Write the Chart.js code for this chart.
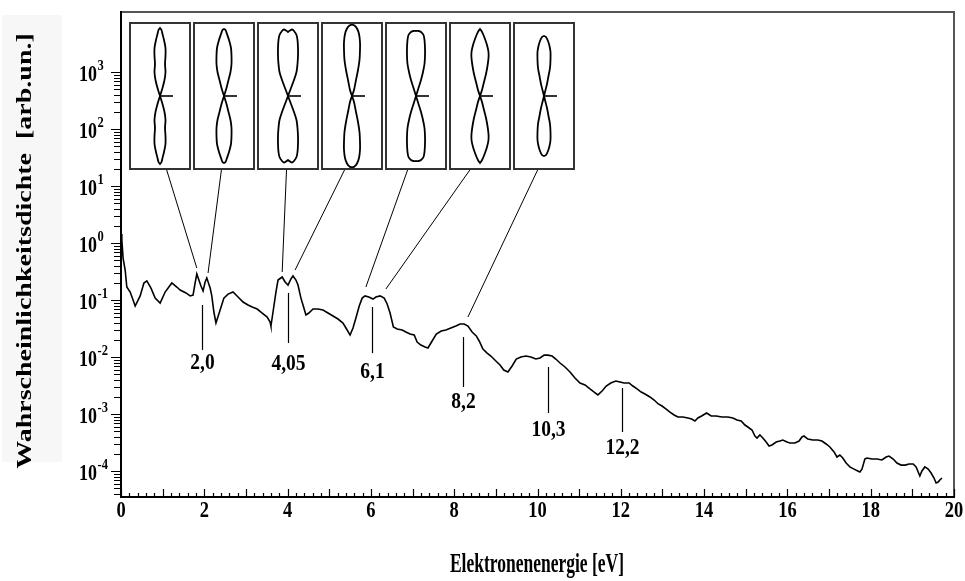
<!DOCTYPE html>
<html><head><meta charset="utf-8">
<script src="https://cdn.jsdelivr.net/npm/chart.js@4/dist/chart.umd.min.js"></script>
<style>
html,body{margin:0;padding:0;background:#fff;}
#wrap{position:relative;width:965px;height:581px;overflow:hidden;}
#main{position:absolute;left:0;top:0;}
.inset{position:absolute;top:22px;width:58px;height:144px;border:2px solid #333;background:#fff;}
.inset canvas{display:block;}
</style></head><body>
<div id="wrap"><canvas id="main" width="965" height="581"></canvas></div>
<script>
// ---------------- data ----------------
const energies = [0.00,0.02,0.05,0.10,0.14,0.22,0.29,0.34,0.46,0.55,0.62,0.72,0.82,0.94,1.06,1.22,1.34,1.42,1.56,1.66,1.73,1.78,1.82,1.87,1.92,1.97,2.02,2.06,2.14,2.18,2.23,2.28,2.38,2.47,2.57,2.69,2.81,2.93,3.05,3.15,3.27,3.39,3.51,3.58,3.60,3.65,3.72,3.77,3.87,3.94,4.01,4.08,4.13,4.20,4.25,4.32,4.37,4.44,4.51,4.61,4.73,4.85,4.97,5.09,5.21,5.33,5.43,5.50,5.57,5.64,5.72,5.79,5.86,5.95,6.05,6.12,6.22,6.32,6.39,6.46,6.54,6.63,6.75,6.84,6.94,7.04,7.11,7.20,7.30,7.37,7.47,7.57,7.69,7.80,7.92,8.04,8.14,8.24,8.33,8.43,8.53,8.60,8.69,8.79,8.88,9.00,9.10,9.19,9.29,9.39,9.49,9.60,9.72,9.84,9.96,10.06,10.16,10.25,10.35,10.44,10.54,10.66,10.78,10.90,11.02,11.14,11.26,11.36,11.45,11.55,11.65,11.76,11.88,11.98,12.08,12.20,12.29,12.39,12.49,12.58,12.70,12.80,12.90,12.99,13.09,13.18,13.28,13.37,13.49,13.61,13.70,13.78,13.85,13.94,14.06,14.17,14.29,14.43,14.57,14.69,14.79,14.89,14.98,15.05,15.15,15.22,15.27,15.34,15.41,15.49,15.56,15.63,15.73,15.82,15.89,15.99,16.06,16.18,16.28,16.35,16.40,16.49,16.61,16.73,16.83,16.93,17.02,17.12,17.19,17.26,17.33,17.41,17.50,17.60,17.69,17.74,17.79,17.86,17.91,18.03,18.15,18.27,18.37,18.44,18.54,18.63,18.73,18.83,18.92,19.02,19.09,19.14,19.18,19.23,19.30,19.38,19.45,19.52,19.57,19.62,19.66,19.71];
const intensities = [1.44,1.13,0.545,0.336,0.169,0.138,0.100,0.0785,0.118,0.199,0.216,0.162,0.108,0.0886,0.138,0.199,0.169,0.150,0.133,0.118,0.122,0.199,0.286,0.224,0.176,0.144,0.207,0.243,0.162,0.118,0.0616,0.0395,0.0668,0.108,0.127,0.138,0.113,0.0922,0.0817,0.0754,0.0695,0.0591,0.0503,0.0411,0.0350,0.0616,0.138,0.224,0.253,0.207,0.183,0.234,0.264,0.224,0.183,0.108,0.0817,0.0546,0.0591,0.0695,0.0695,0.0668,0.0591,0.0524,0.0464,0.0395,0.0298,0.0243,0.0323,0.0483,0.0785,0.108,0.118,0.113,0.104,0.113,0.118,0.108,0.0851,0.0591,0.0336,0.0310,0.0298,0.0275,0.0253,0.0243,0.0183,0.0162,0.0150,0.0144,0.0191,0.0253,0.0286,0.0298,0.0323,0.0350,0.0379,0.0379,0.0350,0.0275,0.0234,0.0191,0.0138,0.0117,0.0104,0.00851,0.00724,0.00592,0.00546,0.00695,0.00922,0.0100,0.0104,0.0100,0.00922,0.00960,0.0108,0.0108,0.0104,0.00922,0.00785,0.00668,0.00546,0.00428,0.00350,0.00323,0.00275,0.00243,0.00216,0.00253,0.00310,0.00350,0.00379,0.00364,0.00350,0.00350,0.00310,0.00275,0.00243,0.00224,0.00199,0.00176,0.00150,0.00138,0.00122,0.00108,0.000960,0.000886,0.000886,0.000851,0.000817,0.000754,0.000851,0.000922,0.00104,0.000922,0.000922,0.000886,0.000886,0.000851,0.000785,0.000754,0.000641,0.000592,0.000524,0.000411,0.000379,0.000428,0.000379,0.000323,0.000275,0.000286,0.000323,0.000336,0.000350,0.000323,0.000310,0.000310,0.000336,0.000395,0.000411,0.000364,0.000350,0.000350,0.000336,0.000298,0.000264,0.000216,0.000176,0.000191,0.000169,0.000138,0.000118,0.000108,0.000100,0.0000960,0.000108,0.000162,0.000169,0.000162,0.000162,0.000156,0.000176,0.000183,0.000162,0.000138,0.000127,0.000127,0.000133,0.000133,0.000118,0.0000960,0.0000817,0.000100,0.000118,0.000108,0.0000922,0.0000754,0.0000616,0.0000641,0.0000695,0.0000754];

const xTickValues = [0,2,4,6,8,10,12,14,16,18,20];
const xTickLabels = ['0','2','4','6','8','10','12','14','16','18','20'];
const yTickExponents = [-4,-3,-2,-1,0,1,2,3];
const yTickLabels = ['-4','-3','-2','-1','0','1','2','3'];

// marked peaks: energy position, line top/bottom value, label
const peakEnergies = [1.94,4.02,6.02,8.22,10.26,12.04];
const peakLineTop = [0.0817,0.133,0.0754,0.0224,0.00668,0.00286];
const peakLineBottom = [0.0133,0.0176,0.0117,0.00298,0.00104,0.000483];
const peakLabelValues = [0.00785,0.00754,0.00546,0.00162,0.000524,0.000253];
const peakLabels = ['2,0','4,05','6,1','8,2','10,3','12,2'];

// points on the spectrum that the insets point to
const insetTargetEnergies = [1.82,2.09,3.87,4.18,5.88,6.36,8.33];
const insetTargetValues = [0.364,0.298,0.310,0.336,0.169,0.156,0.0503];

// angular distributions (upper right quarter: half width vs height from centre)
const insetHalfWidths = [
  [0,2.5,4.5,5.5,5,5.5,5.5,4,2.5,1.5,0],
  [0,2.5,4.5,6.5,7.5,7.5,7,5,3,1.5,0],
  [0,3,6,8.5,9.5,10,10,9.5,8.5,6,4,2,0],
  [0,2,4,6,7.5,8,8,7,5,2.5,0],
  [0,2.5,5,7,8.5,9,9,8.5,7.5,5,2.5,0],
  [0,2,4,6,7.5,8.5,8.5,7,5,3,1.5,0],
  [0,1.5,3,4.5,6,6.5,6.5,5.5,4,2,0]
];
const insetHeights = [
  [0,8,16,24,32,40,48,56,62,66,68],
  [0,8,16,24,32,40,48,56,62,66,67],
  [0,8,16,24,32,40,48,56,61,65,66.5,65.5,64],
  [0,6,16,26,36,46,54,62,67.5,70.5,71.5],
  [0,8,16,24,32,40,48,56,61,64,65,65],
  [0,6,14,22,30,38,44,51,57,62,65,67],
  [0,6,12,20,28,36,44,50,55,59,60]
];
const insetAxisMarker = [0,13];

// ---------------- layout constants ----------------
const FONT = '"Liberation Serif","Times New Roman",serif';
const insetLefts = [129,193,257,321,385,449,513];
const insetAnchorOffsets = [37.7,28.4,29.5,23.5,22.6,20.8,24.6];
const insetBottom = 170;

function stretchedText(ctx, txt, x, y, size, sy, align, base, sx){
  ctx.save();
  ctx.translate(x,y);
  ctx.scale(sx||1, sy);
  ctx.font = 'bold '+size+'px '+FONT;
  ctx.textAlign = align; ctx.textBaseline = base;
  ctx.fillStyle = '#000';
  ctx.fillText(txt,0,0);
  ctx.restore();
}

const decor = {
  id:'decor',
  beforeDraw(chart){
    const ctx = chart.ctx;
    ctx.save();
    ctx.fillStyle = '#ffffff'; ctx.fillRect(0,0,chart.width,chart.height);
    ctx.fillStyle = '#f7f7f7'; ctx.fillRect(2,15,60,447);
    ctx.restore();
  },
  afterDraw(chart){
    const ctx = chart.ctx, a = chart.chartArea;
    const xs = chart.scales.x, ys = chart.scales.y;
    ctx.save();
    // frame
    ctx.lineCap = 'butt';
    ctx.strokeStyle = '#555'; ctx.lineWidth = 2;
    ctx.beginPath(); ctx.moveTo(a.left, a.top); ctx.lineTo(a.right+1, a.top);
    ctx.moveTo(a.right, a.top); ctx.lineTo(a.right, a.bottom); ctx.stroke();
    ctx.strokeStyle = '#000'; ctx.lineWidth = 2;
    ctx.beginPath(); ctx.moveTo(a.left, a.top-1); ctx.lineTo(a.left, a.bottom+1);
    ctx.moveTo(a.left-1, a.bottom); ctx.lineTo(a.right+1, a.bottom); ctx.stroke();

    // y ticks (outward), only up to the top labelled decade
    const topLabel = Math.pow(10, yTickExponents[yTickExponents.length-1]);
    ctx.lineWidth = 1.2;
    ctx.beginPath();
    for (let k=-5;k<=3;k++){
      for (let m=1;m<=9;m++){
        const v = m*Math.pow(10,k);
        if (v < ys.min || v > topLabel*1.0001) continue;
        const py = Math.round(ys.getPixelForValue(v))+0.5;
        const len = m===1 ? 10 : 7;
        ctx.moveTo(a.left-len, py); ctx.lineTo(a.left, py);
      }
    }
    ctx.stroke();
    // y tick labels
    yTickExponents.forEach((e,i)=>{
      const py = ys.getPixelForValue(Math.pow(10,e));
      ctx.save();
      ctx.font = 'bold 18px '+FONT;
      const w = ctx.measureText('10').width;
      ctx.restore();
      stretchedText(ctx,'10',79,py+3,18,1.25,'left','middle');
      stretchedText(ctx,yTickLabels[i],79+w+0.5,py-6,12.5,1.25,'left','middle');
    });

    // x ticks (inward)
    ctx.lineWidth = 1.2;
    ctx.beginPath();
    for (let i=0;i<=100;i++){
      const v = i/5;
      const px = Math.round(xs.getPixelForValue(v))+0.5;
      const len = (i%5===0) ? 8 : 4;
      ctx.moveTo(px, a.bottom); ctx.lineTo(px, a.bottom-len);
    }
    ctx.stroke();
    xTickValues.forEach((v,i)=>{
      stretchedText(ctx, xTickLabels[i], xs.getPixelForValue(v), 511, 18.5, 1.2, 'center','middle');
    });

    // axis titles
    stretchedText(ctx,'Elektronenenergie [eV]', 537, 565, 17.5, 1.6, 'center','middle');
    ctx.save();
    ctx.translate(26, 251); ctx.rotate(-Math.PI/2); ctx.scale(1.4,1);
    ctx.font = 'bold 20px '+FONT; ctx.textAlign='center'; ctx.textBaseline='middle'; ctx.fillStyle='#000';
    ctx.fillText('Wahrscheinlichkeitsdichte  [arb.un.]',0,0);
    ctx.restore();

    // peak markers
    ctx.strokeStyle='#000'; ctx.lineWidth=1.2;
    peakEnergies.forEach((e,i)=>{
      const px = Math.round(xs.getPixelForValue(e))+0.5;
      ctx.beginPath();
      ctx.moveTo(px, ys.getPixelForValue(peakLineTop[i]));
      ctx.lineTo(px, ys.getPixelForValue(peakLineBottom[i]));
      ctx.stroke();
      stretchedText(ctx, peakLabels[i], px, ys.getPixelForValue(peakLabelValues[i]), 19.5, 1.2, 'center','middle');
    });

    // connectors from insets
    ctx.lineWidth = 1;
    insetTargetEnergies.forEach((e,i)=>{
      ctx.beginPath();
      ctx.moveTo(insetLefts[i]+insetAnchorOffsets[i], insetBottom);
      ctx.lineTo(xs.getPixelForValue(e), ys.getPixelForValue(insetTargetValues[i]));
      ctx.stroke();
    });
    ctx.restore();
  }
};

new Chart(document.getElementById('main'), {
  type:'scatter',
  data:{datasets:[{
    data: energies.map((e,i)=>({x:e, y:intensities[i]})),
    showLine:true, borderColor:'#000', borderWidth:1.6, pointRadius:0, tension:0, fill:false
  }]},
  options:{
    responsive:false, animation:false, devicePixelRatio:1,
    layout:{padding:{left:121, top:12, right:11, bottom:84}},
    plugins:{legend:{display:false}, tooltip:{enabled:false}},
    scales:{
      x:{type:'linear', min:0, max:20, display:false, bounds:'data'},
      y:{type:'logarithmic', min:Math.pow(10,-4.456), max:Math.pow(10,4.053), display:false, bounds:'data'}
    }
  },
  plugins:[decor]
});

// insets
const wrap = document.getElementById('wrap');
insetHalfWidths.forEach((ws,i)=>{
  const hs = insetHeights[i];
  const pts = [];
  for (let j=0;j<ws.length;j++) pts.push({x:ws[j], y:hs[j]});
  for (let j=ws.length-1;j>=0;j--) pts.push({x:-ws[j], y:hs[j]});
  for (let j=0;j<ws.length;j++) pts.push({x:ws[j], y:-hs[j]});
  for (let j=ws.length-1;j>=0;j--) pts.push({x:-ws[j], y:-hs[j]});
  const div = document.createElement('div');
  div.className='inset'; div.style.left = insetLefts[i]+'px';
  const cv = document.createElement('canvas'); cv.width=58; cv.height=144;
  div.appendChild(cv); wrap.appendChild(div);
  new Chart(cv, {
    type:'scatter',
    data:{datasets:[
      {data:pts, showLine:true, borderColor:'#000', borderWidth:1.8, pointRadius:0, tension:0.3, fill:false},
      {data:insetAxisMarker.map(v=>({x:v,y:0})), showLine:true, borderColor:'#000', borderWidth:1.6, pointRadius:0}
    ]},
    options:{responsive:false, animation:false, devicePixelRatio:1,
      layout:{padding:0},
      plugins:{legend:{display:false}, tooltip:{enabled:false}},
      scales:{x:{type:'linear',min:-29,max:29,display:false}, y:{type:'linear',min:-72,max:72,display:false}}}
  });
});
</script>
</body></html>
